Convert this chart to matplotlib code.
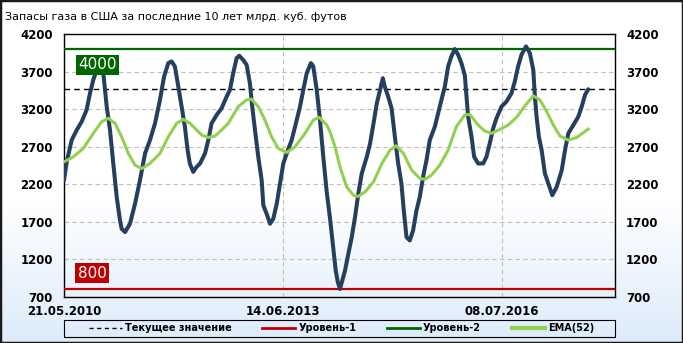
import numpy as np
import matplotlib
matplotlib.use('Agg')
import matplotlib.pyplot as plt
from matplotlib.patches import Rectangle
from matplotlib.lines import Line2D

title = 'Запасы газа в США за последние 10 лет млрд. куб. футов'
tick_weeks = [0, 160, 320]
tick_dates = ['21.05.2010', '14.06.2013', '08.07.2016']
level_1 = 800
level_2 = 4000

# weeks since 21.05.2010 and storage
weeks = [0, 2, 5.6, 9.3, 12.9, 16.5, 19, 21.4, 23.9, 26.3, 28.7, 31.2, 33.6, 36, 38.5,
         40.9, 42.1, 44.6, 48.2, 51.9, 55.5, 59.2, 62.8, 66.5, 70.1, 73.1, 76.2, 78.6,
         81, 83.5, 85.9, 88.3, 90.3, 91.9, 94.4, 96.8, 99.4, 103, 105.4, 107.8, 111.5,
         115.1, 118.8, 121.2, 123.6, 126.1, 128, 130.8, 133.4, 135.8, 137.5, 139.5,
         141.9, 144.4, 145.6, 148, 150.5, 152.9, 155.4, 157.8, 160.2, 162.7, 166.3,
         168.8, 172.4, 174.8, 177.3, 180.4, 182.1, 184.6, 187, 189.4, 191.9, 194.3,
         196.7, 198.5, 200, 201.6, 205.3, 207.7, 210.2, 212.6, 215, 217.5, 221.2,
         223.6, 226.1, 228.5, 230.9, 232.9, 234.3, 236.8, 239.3, 241.7, 244.1, 246.5,
         248.2, 250.2, 252.6, 255, 257.5, 259.9, 262.3, 264.8, 267.2, 270.9, 274.5,
         278.2, 280.6, 283, 285.5, 287.9, 290.3, 292.8, 295.2, 297.7, 299.6, 302.5,
         306.2, 308.6, 311, 313.5, 315.9, 319.6, 323.2, 326.9, 329.3, 331.7, 334.2,
         337.5, 340.3, 342.8, 344, 345.2, 346.9, 348.9, 351.3, 353.8, 356.7, 359.9,
         363.6, 366, 368.4, 372.1, 375.7, 378.2, 380.6, 383]
storage = [2254, 2499, 2788, 2922, 3033, 3189, 3412, 3590, 3724, 3840, 3680, 3234, 2922,
           2477, 2031, 1720, 1608, 1564, 1675, 1942, 2254, 2610, 2788, 3011, 3323, 3634,
           3813, 3835, 3768, 3501, 3234, 2967, 2655, 2477, 2365, 2430, 2477, 2610, 2788,
           3011, 3122, 3211, 3367, 3456, 3679, 3879, 3910, 3857, 3790, 3545, 3234, 2922,
           2566, 2254, 1920, 1809, 1675, 1742, 1942, 2209, 2477, 2610, 2788, 2967, 3234,
           3456, 3679, 3813, 3768, 3456, 3055, 2566, 2100, 1750, 1350, 1050, 900, 807,
           1052, 1274, 1497, 1764, 2076, 2343, 2566, 2744, 3011, 3278, 3456, 3612, 3501,
           3367, 3211, 2833, 2477, 2209, 1853, 1497, 1452, 1586, 1853, 2031, 2299, 2521,
           2788, 2967, 3234, 3501, 3768, 3902, 4000, 3924, 3813, 3650, 3100, 2833, 2566,
           2477, 2477, 2566, 2744, 2944, 3078, 3234, 3300, 3412, 3568, 3768, 3924, 4035,
           3946, 3723, 3367, 3100, 2833, 2655, 2343, 2209, 2054, 2165, 2388, 2655, 2878,
           2989, 3100, 3234, 3390, 3465]

ema_weeks = [0, 6.8, 14.1, 21.4, 27.5, 32.4, 37.3, 42.1, 47, 51.9, 56.8, 62.8, 70.1,
             76.2, 82.3, 87.2, 92.1, 96.5, 100.6, 105.4, 110.3, 115.1, 120, 127.3,
             133.4, 137, 141.9, 146.8, 151.6, 156.5, 162.7, 168.8, 176.1, 182.1, 186.3,
             191.9, 194.3, 198, 201.6, 206.5, 211.4, 215, 219.9, 226.1, 232.2, 238.2,
             242.6, 248, 254, 260, 263.7, 268.4, 274.5, 280.6, 286.6, 292.8, 296.4,
             302.5, 307.4, 312.2, 318.5, 324.5, 330.6, 336.7, 342.8, 347.7, 352.6,
             357.4, 362.3, 368.4, 374.5, 379.3, 383]
ema = [2499, 2566, 2677, 2878, 3033, 3078, 3011, 2833, 2610, 2454, 2410, 2477, 2610,
       2833, 3011, 3064, 3011, 2930, 2855, 2824, 2842, 2922, 3011, 3234, 3323, 3332,
       3234, 3055, 2833, 2677, 2624, 2700, 2878, 3055, 3091, 2989, 2900, 2700, 2432,
       2165, 2054, 2040, 2098, 2232, 2477, 2655, 2713, 2610, 2388, 2276, 2267, 2321,
       2454, 2655, 2967, 3125, 3130, 2989, 2909, 2878, 2931, 2989, 3091, 3243, 3376,
       3323, 3167, 2989, 2842, 2788, 2824, 2886, 2935]

fig = plt.figure(figsize=(6.83, 3.43), dpi=100)

# background gradient: white top, light blue bottom
bg = fig.add_axes([0, 0, 1, 1], zorder=-10)
grad = np.ones((343, 1, 3))
top = np.array([1.0, 1.0, 1.0])
bot = np.array([220, 235, 250]) / 255
for r in range(343):
    t = max(0, (r - 200) / (343 - 200))
    grad[r, 0] = top * (1 - t) + bot * t
bg.imshow(grad, aspect='auto', extent=[0, 1, 0, 1])
bg.axis('off')
fig.patches.append(Rectangle((0, 0), 1, 1, transform=fig.transFigure, fill=False,
                             lw=2.5, edgecolor='#1a1a1a'))

ax = fig.add_axes([64 / 683, 1 - 297 / 343, 551 / 683, 263 / 343])
ax.set_facecolor('none')

ax.plot(weeks, storage, color='#253f5f', lw=2.9, solid_capstyle='round', zorder=4)
ax.plot(ema_weeks, ema, color='#92d050', lw=2.2, zorder=5)
ax.axhline(storage[-1], color='black', lw=1, dashes=(4, 3), zorder=3)
ax.axhline(level_1, color='#c00000', lw=1.6, zorder=3)
ax.axhline(level_2, color='#006600', lw=1.6, zorder=3)

ax.text(10.5, 3790, str(level_2), color='white', fontsize=11, va='center', ha='left',
        bbox=dict(boxstyle='square,pad=0.16', fc='#006600', ec='none'), zorder=6)
ax.text(10, 1015, str(level_1), color='white', fontsize=11, va='center', ha='left',
        bbox=dict(boxstyle='square,pad=0.16', fc='#c00000', ec='none'), zorder=6)

ax.set_xlim(0, 402.5)
ax.set_ylim(700, 4200)
ax.set_yticks(range(700, 4201, 500))
ax.set_xticks(tick_weeks)
ax.set_xticklabels(tick_dates)
ax.grid(True, color='#c0c0c0', lw=0.8, dashes=(4, 3))
ax.tick_params(length=0, labelsize=8.5, labelright=True)
ax.tick_params(axis='y', pad=8)
ax.tick_params(axis='x', pad=6)
for lab in ax.get_xticklabels() + ax.get_yticklabels():
    lab.set_fontweight('bold')
for tk in ax.yaxis.get_major_ticks():
    tk.label2.set_fontweight('bold')
for s in ax.spines.values():
    s.set_color('black')
    s.set_linewidth(1)

fig.text(5 / 683, 1 - 17 / 343, title, fontsize=8, va='center', ha='left')

handles = [Line2D([], [], color='black', lw=1, dashes=(3, 2.5)),
           Line2D([], [], color='#c00000', lw=2),
           Line2D([], [], color='#006600', lw=2),
           Line2D([], [], color='#92d050', lw=3)]
labels = ['Текущее значение', 'Уровень-1', 'Уровень-2', 'EMA(52)']
leg = ax.legend(handles, labels, loc='center', ncol=4, mode='expand',
                bbox_to_anchor=(25 / 551, -0.152, 505 / 551, 0.066), frameon=False,
                prop={'size': 7, 'weight': 'bold'}, handlelength=3.4,
                handletextpad=0.3, borderpad=0, borderaxespad=0)
ax.add_patch(Rectangle((0, -0.152), 1, 0.066, transform=ax.transAxes, fill=False,
                       edgecolor='black', lw=0.8, clip_on=False))

plt.savefig('out.png', dpi=100)
